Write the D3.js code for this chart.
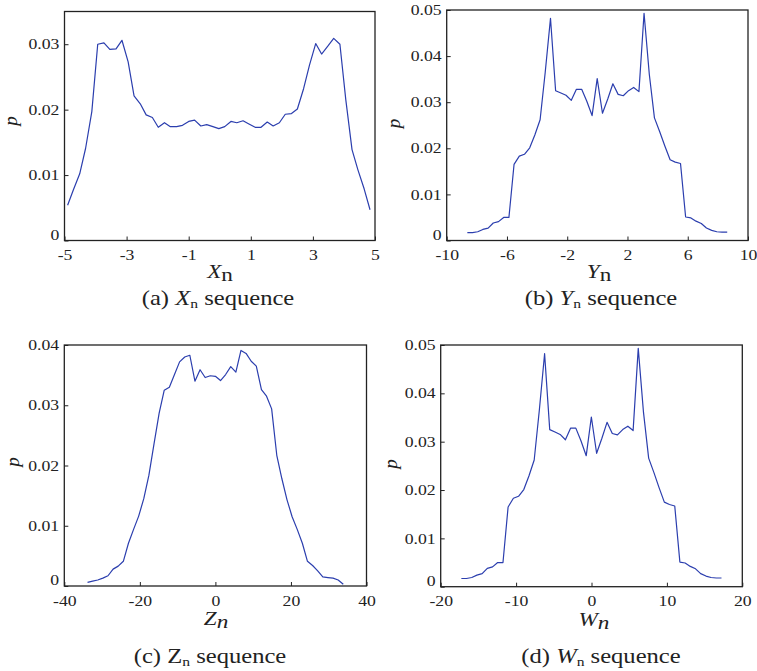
<!DOCTYPE html>
<html>
<head>
<meta charset="utf-8">
<script src="https://cdn.jsdelivr.net/npm/d3@7"></script>
<style>
  html, body { margin: 0; padding: 0; background: #fff; }
  svg { display: block; font-family: "Liberation Serif", "Times New Roman", serif; }
</style>
</head>
<body>
<svg id="fig" width="757" height="671"></svg>
<script>
// Probability distributions of the four state sequences (bin centre, probability)
const xnBins = [-4.90,-4.71,-4.51,-4.32,-4.12,-3.93,-3.73,-3.54,-3.34,-3.15,-2.95,-2.76,-2.56,-2.37,-2.17,-1.98,-1.78,-1.59,-1.39,-1.20,-1.00,-0.81,-0.61,-0.42,-0.22,-0.03,0.16,0.36,0.55,0.75,0.94,1.14,1.33,1.53,1.72,1.92,2.11,2.31,2.50,2.70,2.89,3.09,3.28,3.48,3.67,3.87,4.06,4.26,4.45,4.65,4.84];
const xnProb = [0.0054,0.0078,0.0102,0.0141,0.0197,0.0300,0.0302,0.0292,0.0293,0.0306,0.0273,0.0221,0.0209,0.0192,0.0188,0.0173,0.0180,0.0174,0.0174,0.0176,0.0182,0.0184,0.0175,0.0177,0.0174,0.0171,0.0174,0.0182,0.0180,0.0183,0.0178,0.0173,0.0173,0.0181,0.0175,0.0180,0.0193,0.0194,0.0201,0.0232,0.0268,0.0301,0.0285,0.0297,0.0309,0.0300,0.0215,0.0139,0.0108,0.0079,0.0047];

const ynBins = [-8.63,-8.29,-7.94,-7.60,-7.25,-6.91,-6.56,-6.22,-5.87,-5.53,-5.18,-4.84,-4.49,-4.15,-3.80,-3.46,-3.11,-2.77,-2.42,-2.08,-1.73,-1.39,-1.04,-0.70,-0.35,-0.01,0.34,0.69,1.03,1.38,1.72,2.07,2.41,2.76,3.10,3.45,3.79,4.14,4.48,4.83,5.17,5.52,5.86,6.21,6.55,6.90,7.24,7.59,7.93,8.28,8.62];
const ynProb = [0.0017,0.0017,0.0019,0.0024,0.0027,0.0038,0.0041,0.0050,0.0050,0.0165,0.0183,0.0187,0.0201,0.0229,0.0262,0.0365,0.0482,0.0325,0.0320,0.0315,0.0304,0.0328,0.0328,0.0302,0.0271,0.0351,0.0276,0.0307,0.0340,0.0317,0.0314,0.0325,0.0332,0.0323,0.0493,0.0360,0.0266,0.0236,0.0205,0.0175,0.0170,0.0167,0.0051,0.0049,0.0042,0.0037,0.0027,0.0022,0.0019,0.0018,0.0018];

const znBins = [-33.85,-32.50,-31.14,-29.79,-28.43,-27.08,-25.73,-24.37,-23.02,-21.66,-20.31,-18.96,-17.60,-16.25,-14.89,-13.54,-12.19,-10.83,-9.48,-8.12,-6.77,-5.42,-4.06,-2.71,-1.35,0.00,1.35,2.71,4.06,5.42,6.77,8.12,9.48,10.83,12.19,13.54,14.89,16.25,17.60,18.96,20.31,21.66,23.02,24.37,25.73,27.08,28.43,29.79,31.14,32.50,33.85];
const znProb = [0.0006,0.0008,0.0010,0.0013,0.0017,0.0028,0.0033,0.0041,0.0071,0.0094,0.0116,0.0145,0.0184,0.0236,0.0287,0.0325,0.0330,0.0351,0.0372,0.0380,0.0383,0.0340,0.0359,0.0346,0.0349,0.0348,0.0341,0.0351,0.0364,0.0355,0.0391,0.0386,0.0373,0.0365,0.0326,0.0315,0.0294,0.0217,0.0178,0.0143,0.0115,0.0094,0.0071,0.0041,0.0034,0.0025,0.0015,0.0014,0.0013,0.0010,0.0003];

const wnBins = [-17.26,-16.58,-15.88,-15.20,-14.50,-13.82,-13.12,-12.44,-11.74,-11.06,-10.36,-9.68,-8.98,-8.30,-7.60,-6.92,-6.22,-5.54,-4.84,-4.16,-3.46,-2.78,-2.08,-1.40,-0.70,-0.02,0.68,1.38,2.06,2.76,3.44,4.14,4.82,5.52,6.20,6.90,7.58,8.28,8.96,9.66,10.34,11.04,11.72,12.42,13.10,13.80,14.48,15.18,15.86,16.56,17.24];
const wnProb = [0.0017,0.0017,0.0019,0.0024,0.0027,0.0038,0.0041,0.0050,0.0050,0.0165,0.0183,0.0187,0.0201,0.0229,0.0262,0.0365,0.0482,0.0325,0.0320,0.0315,0.0304,0.0328,0.0328,0.0302,0.0271,0.0351,0.0276,0.0307,0.0340,0.0317,0.0314,0.0325,0.0332,0.0323,0.0493,0.0360,0.0266,0.0236,0.0205,0.0175,0.0170,0.0167,0.0051,0.0049,0.0042,0.0037,0.0027,0.0022,0.0019,0.0018,0.0018];

// Tick values
const xnTicks = [-5, -3, -1, 1, 3, 5];
const ynTicks = [-10, -6, -2, 2, 6, 10];
const znTicks = [-40, -20, 0, 20, 40];
const wnTicks = [-20, -10, 0, 10, 20];
const pTicks35 = [0, 0.01, 0.02, 0.03];
const pTicks40 = [0, 0.01, 0.02, 0.03, 0.04];
const pTicks50 = [0, 0.01, 0.02, 0.03, 0.04, 0.05];

const panels = [
  { bins: xnBins, prob: xnProb, xDom: [-5, 5], yDom: [0, 0.035], xt: xnTicks, yt: pTicks35,
    box: { l: 64.5, r: 375, t: 11.5, b: 240.5 },
    xLab: { x: 220, y: 278, sym: "X", symItalic: true, subItalic: false },
    pLab: { x: 17, y: 121 },
    cap: { x: 218, y: 305, tag: "(a) ", sym: "X", symItalic: true } },
  { bins: ynBins, prob: ynProb, xDom: [-10, 10], yDom: [0, 0.05], xt: ynTicks, yt: pTicks50,
    box: { l: 446.7, r: 748, t: 10, b: 240.5 },
    xLab: { x: 599, y: 278, sym: "Y", symItalic: true, subItalic: false },
    pLab: { x: 399.5, y: 123.5 },
    cap: { x: 601, y: 305, tag: "(b) ", sym: "Y", symItalic: true } },
  { bins: znBins, prob: znProb, xDom: [-40, 40], yDom: [0, 0.04], xt: znTicks, yt: pTicks40,
    box: { l: 64.3, r: 366.5, t: 345, b: 586 },
    xLab: { x: 216, y: 625, sym: "Z", symItalic: true, subItalic: true },
    pLab: { x: 18.5, y: 462 },
    cap: { x: 210, y: 663, tag: "(c) ", sym: "Z", symItalic: false } },
  { bins: wnBins, prob: wnProb, xDom: [-20, 20], yDom: [0, 0.05], xt: wnTicks, yt: pTicks50,
    box: { l: 440.7, r: 742.3, t: 345, b: 586.7 },
    xLab: { x: 594, y: 626, sym: "W", symItalic: true, subItalic: true },
    pLab: { x: 396.5, y: 464 },
    cap: { x: 601, y: 663, tag: "(d) ", sym: "W", symItalic: true } }
];

const svg = d3.select("#fig");
const SERIF = "Liberation Serif, Times New Roman, serif";
const INK = "#222";
const LINE = "#2b3eae";
const STRETCH = 1.22;

panels.forEach(p => {
  const { l, r, t, b } = p.box;
  const x = d3.scaleLinear().domain(p.xDom).range([l, r]);
  const y = d3.scaleLinear().domain(p.yDom).range([b, t]);
  const g = svg.append("g");

  // curve
  const line = d3.line().x(d => x(d[0])).y(d => y(d[1]));
  g.append("path")
    .datum(d3.zip(p.bins, p.prob))
    .attr("d", line)
    .attr("fill", "none")
    .attr("stroke", LINE)
    .attr("stroke-width", 1.2)
    .attr("stroke-linejoin", "round");

  // bottom axis, ticks pointing inward, plain hyphen minus
  const xa = g.append("g")
    .attr("transform", `translate(0,${b})`)
    .call(d3.axisBottom(x).tickValues(p.xt).tickSizeInner(-4).tickSizeOuter(0)
      .tickPadding(9.3).tickFormat(d => String(d)));
  xa.attr("font-family", SERIF);
  xa.select(".domain").remove();
  xa.selectAll("line").attr("stroke", INK);
  xa.selectAll("text")
    .attr("fill", INK).attr("font-size", 14.5)
    .attr("transform", `scale(${STRETCH},1)`);

  // left axis, ticks pointing inward
  const ya = g.append("g")
    .attr("transform", `translate(${l},0)`)
    .call(d3.axisLeft(y).tickValues(p.yt).tickSizeInner(-4).tickSizeOuter(0)
      .tickPadding(4.2).tickFormat(d => d === 0 ? "0" : d3.format(".2f")(d)));
  ya.attr("font-family", SERIF);
  ya.select(".domain").remove();
  ya.selectAll("line").attr("stroke", INK);
  ya.selectAll("text")
    .attr("fill", INK).attr("font-size", 14.5)
    .attr("transform", `scale(${STRETCH},1)`)
    .attr("y", d => d === 0 ? -6 : 0);

  // frame
  g.append("rect")
    .attr("x", l).attr("y", t).attr("width", r - l).attr("height", b - t)
    .attr("fill", "none").attr("stroke", INK).attr("stroke-width", 1.3);

  // x-axis title
  const xl = g.append("g").attr("transform", `translate(${p.xLab.x},${p.xLab.y}) scale(${STRETCH},1)`)
    .append("text").attr("text-anchor", "middle").attr("font-size", 19).attr("fill", INK);
  xl.append("tspan").attr("font-style", p.xLab.symItalic ? "italic" : "normal").text(p.xLab.sym);
  xl.append("tspan").attr("font-style", p.xLab.subItalic ? "italic" : "normal").attr("dy", 3).text("n");

  // y-axis title
  svg.append("text")
    .attr("transform", `translate(${p.pLab.x},${p.pLab.y}) rotate(-90)`)
    .attr("text-anchor", "middle").attr("font-size", 19).attr("font-style", "italic")
    .attr("fill", INK).text("p");

  // caption
  const cap = svg.append("g").attr("transform", `translate(${p.cap.x},${p.cap.y}) scale(1.2,1)`)
    .append("text").attr("text-anchor", "middle").attr("font-size", 20.5).attr("fill", INK);
  cap.append("tspan").text(p.cap.tag);
  cap.append("tspan").attr("font-style", p.cap.symItalic ? "italic" : "normal").text(p.cap.sym);
  cap.append("tspan").attr("font-size", 13).attr("dy", 3).text("n");
  cap.append("tspan").attr("dy", -3).text(" sequence");
});
</script>
</body>
</html>
